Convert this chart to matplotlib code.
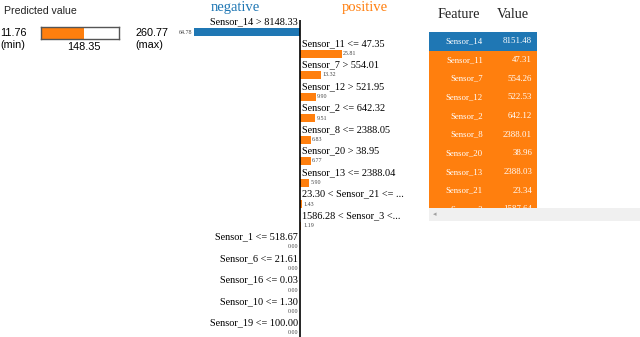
import numpy as np
import matplotlib
matplotlib.use("Agg")
import matplotlib.pyplot as plt
from matplotlib.patches import Rectangle

# ---------------- data ----------------
pred_min = 11.76
pred_max = 260.77
pred_value = 148.35

conditions = [
    "Sensor_14 > 8148.33",
    "Sensor_11 <= 47.35",
    "Sensor_7 > 554.01",
    "Sensor_12 > 521.95",
    "Sensor_2 <= 642.32",
    "Sensor_8 <= 2388.05",
    "Sensor_20 > 38.95",
    "Sensor_13 <= 2388.04",
    "23.30 < Sensor_21 <= ...",
    "1586.28 < Sensor_3 <...",
    "Sensor_1 <= 518.67",
    "Sensor_6 <= 21.61",
    "Sensor_16 <= 0.03",
    "Sensor_10 <= 1.30",
    "Sensor_19 <= 100.00",
]
weights = [-64.78, 25.81, 13.32, 9.90, 9.51, 6.83, 6.77, 5.90, 1.43, 1.19,
           -0.0, -0.0, -0.0, -0.0, -0.0]

table_features = ["Sensor_14", "Sensor_11", "Sensor_7", "Sensor_12", "Sensor_2",
                  "Sensor_8", "Sensor_20", "Sensor_13", "Sensor_21", "Sensor_3"]
table_values = ["8151.48", "47.31", "554.26", "522.53", "642.12",
                "2388.01", "38.96", "2388.03", "23.34", "1587.64"]
table_sign = [-1, 1, 1, 1, 1, 1, 1, 1, 1, 1]

BLUE = "#1f77b4"
ORANGE = "#ff7f0e"
W, H = 640, 337

fig = plt.figure(figsize=(W / 100, H / 100), dpi=100)
fig.patch.set_facecolor("white")


def add_ax(x, y, w, h):
    return fig.add_axes([x / W, 1 - (y + h) / H, w / W, h / H])


def ftext(x, y, s, **kw):
    fig.text(x / W, 1 - y / H, s, **kw)


SERIF = ["Liberation Serif", "DejaVu Serif"]
SANS = ["Liberation Sans", "DejaVu Sans"]

# ---------------- predicted value panel ----------------
ftext(4, 11, "Predicted value", family=SANS, fontsize=7.6, va="center", ha="left", color="#222222")
axp = add_ax(41, 27, 78, 12)
axp.barh([0], [pred_value - pred_min], left=pred_min, height=1.0, color=ORANGE)
axp.set_xlim(pred_min, pred_max)
axp.set_ylim(-0.5, 0.5)
axp.set_xticks([]); axp.set_yticks([])
for sp in axp.spines.values():
    sp.set_color("#555555"); sp.set_linewidth(1.0)
ftext(0, 33, f"{pred_min:.2f}", family=SANS, fontsize=7.8, va="center", ha="left")
ftext(0, 45, "(min)", family=SANS, fontsize=7.8, va="center", ha="left")
ftext(135, 33, f"{pred_max:.2f}", family=SANS, fontsize=7.8, va="center", ha="left")
ftext(135, 45, "(max)", family=SANS, fontsize=7.8, va="center", ha="left")
ftext(84, 47.5, f"{pred_value:.2f}", family=SANS, fontsize=7.8, va="center", ha="center")

# ---------------- explanation bars ----------------
scale = 1.63  # px per unit
x0_px = 299.5
axb = add_ax(150, 0, 270, H)
axb.set_xlim(-(x0_px - 150) / scale, (420 - x0_px) / scale)
row_px = 21.5
top_i = -32 / row_px
axb.set_ylim((H - 32) / row_px, top_i)
axb.axis("off")

n = len(weights)
rows = np.arange(n)
w = np.array(weights)
neg = np.signbit(w)
colors = [BLUE if s else ORANGE for s in neg]
axb.barh(rows, w, height=8 / row_px, color=colors, linewidth=0)
axb.plot([0, 0], [-(12 / row_px), (H - 32) / row_px], color="black", lw=1.2, solid_capstyle="butt")

lab_off = -10 / row_px
for i, (cond, val, isneg) in enumerate(zip(conditions, weights, neg)):
    if isneg:
        axb.annotate(cond, (0, i + lab_off), xytext=(-1.5, 0), textcoords="offset pixels",
                     ha="right", va="center", family=SERIF, fontsize=7.4)
        axb.annotate(f"{abs(val):.2f}", (val, i), xytext=(-1.5, 0), textcoords="offset pixels",
                     ha="right", va="center", family=SERIF, fontsize=4.3, color="#444444")
    else:
        axb.annotate(cond, (0, i + lab_off), xytext=(2.5, 0), textcoords="offset pixels",
                     ha="left", va="center", family=SERIF, fontsize=7.4)
        axb.annotate(f"{abs(val):.2f}", (val, i), xytext=(1.5, 0), textcoords="offset pixels",
                     ha="left", va="center", family=SERIF, fontsize=4.3, color="#444444")

ftext(235, 8, "negative", family=SERIF, fontsize=10.5, color=BLUE, ha="center", va="center")
ftext(365, 8, "positive", family=SERIF, fontsize=10.5, color=ORANGE, ha="center", va="center")

# ---------------- feature table ----------------
ftext(459, 15, "Feature", family=SERIF, fontsize=10.3, ha="center", va="center", color="#222222")
ftext(513, 15, "Value", family=SERIF, fontsize=10.3, ha="center", va="center", color="#222222")

tab_top, tab_bot = 32, 207.5
rh = 18.65
axt = add_ax(429, tab_top, 108, tab_bot - tab_top)
axt.set_xlim(0, 108)
axt.set_ylim((tab_bot - tab_top) / rh, 0)
axt.axis("off")
for i, (f, v, s) in enumerate(zip(table_features, table_values, table_sign)):
    axt.add_patch(Rectangle((0, i), 108, 1, facecolor=BLUE if s < 0 else ORANGE,
                            edgecolor="none", clip_on=True))
    axt.text(54, i + 0.5, f, ha="right", va="center", family=SERIF, fontsize=6.3,
             color="white", clip_on=True)
    axt.text(103, i + 0.5, v, ha="right", va="center", family=SERIF, fontsize=6.3,
             color="white", clip_on=True)

# scrollbar
axs = add_ax(429, 207.5, 211, 13.5)
axs.set_xlim(0, 1); axs.set_ylim(0, 1)
axs.axis("off")
axs.add_patch(Rectangle((0, 0), 1, 1, facecolor="#f0f0f0", edgecolor="none"))
axs.text(0.025, 0.5, "\u25c2", ha="center", va="center", fontsize=5, color="#a0a0a0",
         family=["DejaVu Sans"])

fig.savefig("out.png", dpi=100, facecolor="white")
